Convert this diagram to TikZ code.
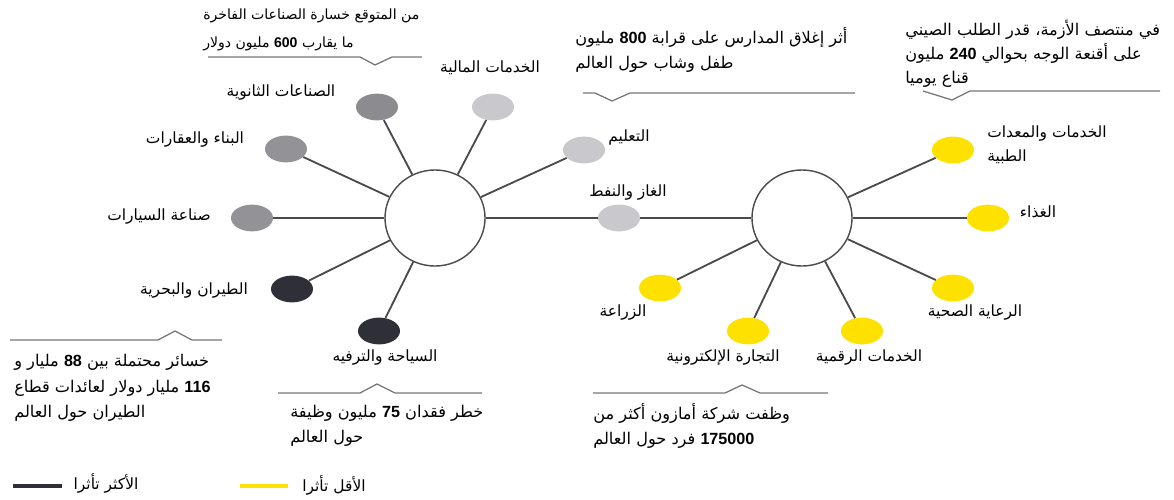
\documentclass[tikz,border=0pt]{standalone}
\usepackage{fontspec}
\TeXXeTstate=1
\newfontfamily\arabicfont[Script=Arabic]{DejaVu Sans}
\newfontfamily\digitfont{Liberation Sans}
\usetikzlibrary{shapes.geometric}
\definecolor{hitdark}{HTML}{2F2F38}
\definecolor{hitmid}{HTML}{939397}
\definecolor{hitsec}{HTML}{8C8C90}
\definecolor{hitlight}{HTML}{C9C9CD}
\definecolor{hityellow}{HTML}{FFE100}
\definecolor{spokegrey}{HTML}{4A4A4A}
\definecolor{notegrey}{HTML}{767676}
\newcommand{\artext}[1]{\beginR #1\endR}
\newcommand{\bnum}[1]{\beginL{\digitfont\bfseries #1}\endL}
\begin{document}
\begin{tikzpicture}[x=0.025cm, y=-0.025cm,
  hub/.style={ellipse, draw=spokegrey, fill=white, line width=1pt, minimum width=2.5cm, minimum height=2.4cm},
  dot/.style={ellipse, minimum width=1.05cm, minimum height=0.67cm, inner sep=0pt},
  spoke/.style={draw=spokegrey, line width=1.3pt},
  lbl/.style={font=\arabicfont\fontsize{11}{17}\selectfont, inner sep=0pt},
  note/.style={font=\arabicfont\fontsize{11.5}{18}\selectfont, inner sep=0pt, align=left, anchor=west},
  notch/.style={draw=notegrey, line width=0.9pt}]
  \useasboundingbox (0,0) rectangle (1174,499);

  % the two hubs
  \node[hub] (hubl) at (435,218) {};
  \node[hub] (hubr) at (802,218) {};

  % grey dots round the left hub
  \node[dot, fill=hitsec] (secondary) at (377,107) {};
  \node[dot, fill=hitlight] (finance) at (493,107) {};
  \node[dot, fill=hitlight] (education) at (584,150) {};
  \node[dot, fill=hitmid] (construction) at (286,149) {};
  \node[dot, fill=hitmid] (cars) at (252,218) {};
  \node[dot, fill=hitdark] (aviation) at (292,289) {};
  \node[dot, fill=hitdark] (tourism) at (379,331) {};
  \node[dot, fill=hitlight] (gas) at (619,218) {};

  % yellow dots round the right hub
  \node[dot, fill=hityellow] (medical) at (953,150) {};
  \node[dot, fill=hityellow] (food) at (988,218) {};
  \node[dot, fill=hityellow] (health) at (953,288) {};
  \node[dot, fill=hityellow] (digital) at (862,331) {};
  \node[dot, fill=hityellow] (ecommerce) at (748,331) {};
  \node[dot, fill=hityellow] (agri) at (660,288) {};

  % spokes
  \foreach \d in {secondary,finance,education,construction,cars,aviation,tourism}
    \draw[spoke] (hubl) -- (\d);
  \foreach \d in {medical,food,health,digital,ecommerce,agri}
    \draw[spoke] (hubr) -- (\d);
  % middle line through gas and oil
  \draw[spoke] (hubl) -- (gas) -- (hubr);

  % labels of the dots
  \node[lbl] (lsecondary) at (281,93) {\artext{الصناعات الثانوية}};
  \node[lbl] (lfinance) at (490,68) {\artext{الخدمات المالية}};
  \node[lbl] (leducation) at (629,137) {\artext{التعليم}};
  \node[lbl] (lconstruction) at (195,140) {\artext{البناء والعقارات}};
  \node[lbl] (lcars) at (159,217) {\artext{صناعة السيارات}};
  \node[lbl] (laviation) at (194,291) {\artext{الطيران والبحرية}};
  \node[lbl] (ltourism) at (385,358) {\artext{السياحة والترفيه}};
  \node[lbl] (lgas) at (628,193) {\artext{الغاز والنفط}};
  \node[lbl, align=left, anchor=west] (lmedical) at (987,145) {\artext{الخدمات والمعدات}\\ \artext{الطبية}};
  \node[lbl] (lfood) at (1038,212) {\artext{الغذاء}};
  \node[lbl] (lhealth) at (975,313) {\artext{الرعاية الصحية}};
  \node[lbl] (ldigital) at (869,358) {\artext{الخدمات الرقمية}};
  \node[lbl] (lecommerce) at (723,358) {\artext{التجارة الإلكترونية}};
  \node[lbl] (lagri) at (623,313) {\artext{الزراعة}};

  % note top left, line with notch pointing down
  \node[note, font=\arabicfont\fontsize{10}{20}\selectfont] (nluxury) at (203,30) {\artext{من المتوقع خسارة الصناعات الفاخرة}\\ \artext{ما يقارب \bnum{600} مليون دولار}};
  \draw[notch] (208,57) -- (360,57) -- (375,65) -- (392,57) -- (422,57);

  % note top middle
  \node[note] (nschools) at (575,50) {\artext{أثر إغلاق المدارس على قرابة \bnum{800} مليون}\\ \artext{طفل وشاب حول العالم}};
  \draw[notch] (583,93) -- (595,93) -- (612,101) -- (630,93) -- (855,93);

  % note top right
  \node[note, font=\arabicfont\fontsize{11.5}{17}\selectfont] (nmasks) at (905,54) {\artext{في منتصف الأزمة، قدر الطلب الصيني}\\ \artext{على أقنعة الوجه بحوالي \bnum{240} مليون}\\ \artext{قناع يوميا}};
  \draw[notch] (923,91) -- (952,100) -- (970,91) -- (1160,91);

  % note bottom left, notch pointing up
  \node[note] (nflights) at (14,388) {\artext{خسائر محتملة بين \bnum{88} مليار و}\\ \artext{\bnum{116} مليار دولار لعائدات قطاع}\\ \artext{الطيران حول العالم}};
  \draw[notch] (10,340) -- (158,340) -- (175,331) -- (192,340) -- (222,340);

  % note bottom middle
  \node[note] (njobs) at (290,426) {\artext{خطر فقدان \bnum{75} مليون وظيفة}\\ \artext{حول العالم}};
  \draw[notch] (278,393) -- (360,393) -- (377,384) -- (395,393) -- (482,393);

  % note bottom right
  \node[note] (namazon) at (593,426) {\artext{وظفت شركة أمازون أكثر من}\\ \artext{\bnum{175000} فرد حول العالم}};
  \draw[notch] (593,393) -- (725,393) -- (742,385) -- (760,393) -- (828,393);

  % legend
  \draw[hitdark, line width=3.5pt] (13,486) -- (62,486);
  \node[lbl] (lmost) at (106,483) {\artext{الأكثر تأثرا}};
  \draw[hityellow, line width=3.5pt] (240,486) -- (288,486);
  \node[lbl] (lleast) at (334,485) {\artext{الأقل تأثرا}};
\end{tikzpicture}
\end{document}
